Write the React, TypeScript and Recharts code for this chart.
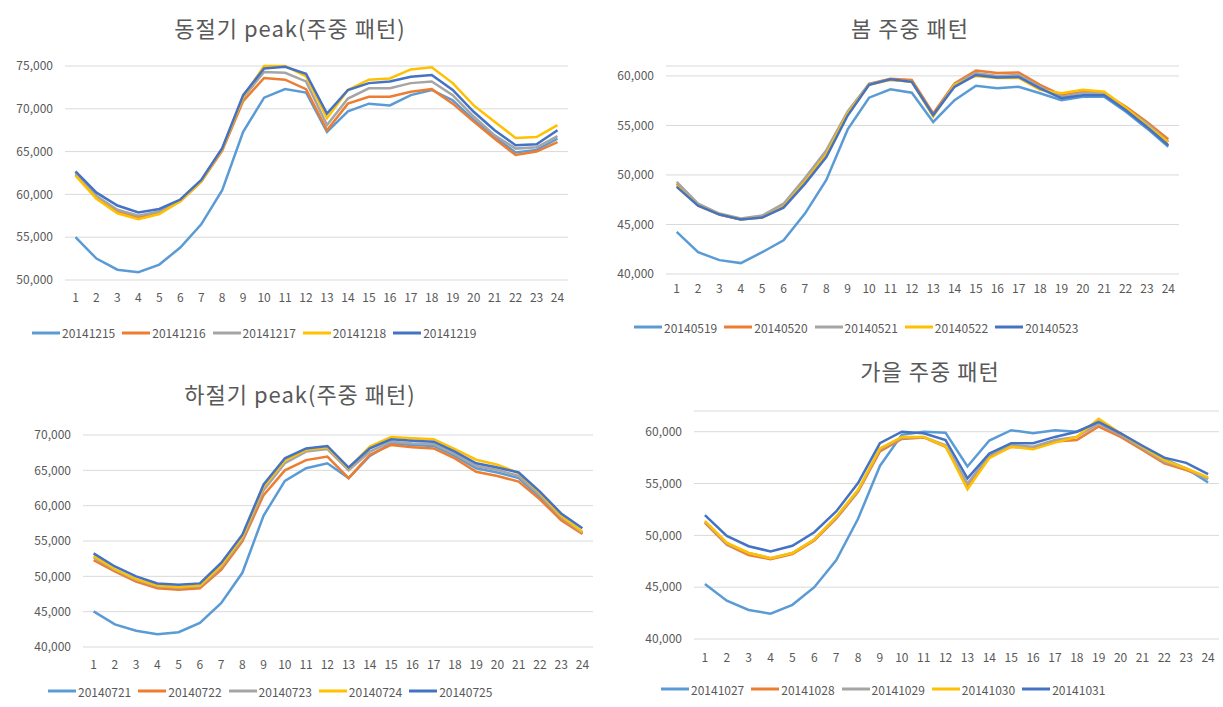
import React from "react"
import { LineChart, Line, XAxis, YAxis, CartesianGrid, Legend } from "recharts"

// hours of the day
const hours = ["1", "2", "3", "4", "5", "6", "7", "8", "9", "10", "11", "12", "13", "14", "15", "16", "17", "18", "19", "20", "21", "22", "23", "24"]

const colors = ["#5B9BD5", "#ED7D31", "#A5A5A5", "#FFC000", "#4472C4"]

// 동절기 peak
const winterDates = ["20141215", "20141216", "20141217", "20141218", "20141219"]
const winter1215 = [55000, 52500, 51200, 50900, 51800, 53800, 56500, 60500, 67300, 71300, 72300, 71900, 67300, 69700, 70600, 70400, 71600, 72200, 71000, 68700, 66700, 64900, 65200, 66500]
const winter1216 = [62300, 59700, 58000, 57300, 57900, 59200, 61500, 65100, 70900, 73600, 73400, 72300, 67500, 70600, 71400, 71400, 72000, 72300, 70600, 68500, 66500, 64600, 65000, 66100]
const winter1217 = [62500, 59800, 58200, 57500, 58000, 59300, 61600, 65300, 71300, 74300, 74200, 73200, 68100, 71200, 72400, 72400, 73000, 73200, 71600, 69100, 66900, 65350, 65500, 66800]
const winter1218 = [62200, 59500, 57800, 57100, 57700, 59200, 61500, 65300, 71400, 75000, 75000, 73800, 68900, 72200, 73400, 73550, 74600, 74850, 73000, 70400, 68500, 66600, 66700, 68100]
const winter1219 = [62700, 60200, 58700, 57900, 58300, 59400, 61700, 65400, 71600, 74700, 74900, 74100, 69450, 72200, 73000, 73200, 73750, 73950, 72200, 69650, 67500, 65750, 65850, 67500]
const winterTicks = [50000, 55000, 60000, 65000, 70000, 75000]

// 봄
const springDates = ["20140519", "20140520", "20140521", "20140522", "20140523"]
const spring0519 = [44250, 42200, 41400, 41100, 42200, 43400, 46100, 49500, 54600, 57800, 58650, 58300, 55350, 57550, 59000, 58750, 58900, 58250, 57550, 57900, 57900, 56400, 54700, 52850]
const spring0520 = [49100, 47000, 46000, 45500, 45800, 46900, 49500, 52300, 56300, 59200, 59700, 59600, 56200, 59250, 60550, 60300, 60350, 59100, 58050, 58400, 58250, 56900, 55350, 53600]
const spring0521 = [49300, 47100, 46100, 45600, 45900, 47100, 49700, 52500, 56400, 59200, 59600, 59400, 56000, 59100, 60300, 60000, 60100, 58900, 57900, 58300, 58200, 56700, 55200, 53350]
const spring0522 = [48900, 46900, 46000, 45500, 45700, 46800, 49300, 52100, 56200, 59100, 59600, 59400, 55900, 59100, 60000, 59800, 59800, 58600, 58250, 58600, 58400, 56800, 55000, 53300]
const spring0523 = [48800, 46900, 46000, 45500, 45700, 46700, 49100, 51800, 56000, 59100, 59650, 59400, 56050, 58900, 60100, 59850, 59900, 58750, 57750, 58050, 58050, 56550, 54850, 53000]
const springTicks = [40000, 45000, 50000, 55000, 60000]

// 하절기 peak
const summerDates = ["20140721", "20140722", "20140723", "20140724", "20140725"]
const summer0721 = [45050, 43200, 42300, 41800, 42100, 43400, 46200, 50500, 58600, 63500, 65300, 66000, 63900, 67050, 68800, 68600, 68450, 67050, 65300, 64700, 63900, 61200, 58200, 56100]
const summer0722 = [52300, 50700, 49250, 48300, 48100, 48300, 50900, 54950, 61500, 65000, 66450, 66950, 63900, 67200, 68600, 68250, 68100, 66700, 64800, 64200, 63400, 60900, 57950, 56000]
const summer0723 = [52700, 50900, 49500, 48600, 48400, 48600, 51300, 55300, 62200, 66000, 67650, 68000, 65000, 67650, 69050, 68800, 68700, 67300, 65600, 65050, 64200, 61500, 58350, 56200]
const summer0724 = [52900, 51000, 49600, 48700, 48500, 48700, 51500, 55600, 62700, 66400, 67900, 68250, 65300, 68350, 69700, 69550, 69400, 68000, 66500, 65800, 64600, 61800, 58550, 56300]
const summer0725 = [53250, 51400, 50000, 49000, 48800, 49000, 51900, 55900, 63000, 66700, 68100, 68450, 65400, 68100, 69400, 69200, 69050, 67650, 66000, 65400, 64700, 62000, 58900, 56800]
const summerTicks = [40000, 45000, 50000, 55000, 60000, 65000, 70000]

// 가을
const autumnDates = ["20141027", "20141028", "20141029", "20141030", "20141031"]
const autumn1027 = [45300, 43700, 42800, 42450, 43300, 45000, 47600, 51600, 56700, 59700, 60000, 59900, 56650, 59150, 60150, 59850, 60150, 60000, 60800, 59850, 58500, 57350, 56450, 55100]
const autumn1028 = [51200, 49100, 48100, 47700, 48200, 49500, 51600, 54200, 58100, 59300, 59450, 58550, 54850, 57600, 58550, 58400, 59050, 59200, 60500, 59500, 58250, 56950, 56300, 55500]
const autumn1029 = [51300, 49200, 48300, 47800, 48300, 49600, 51700, 54300, 58300, 59400, 59500, 58700, 55000, 57750, 58700, 58550, 59200, 59500, 60800, 59700, 58400, 57100, 56450, 55400]
const autumn1030 = [51400, 49300, 48300, 47800, 48300, 49600, 51800, 54400, 58400, 59500, 59500, 58600, 54450, 57450, 58550, 58300, 58950, 59500, 61250, 59850, 58550, 57250, 56450, 55600]
const autumn1031 = [51950, 49950, 48950, 48450, 49000, 50300, 52300, 55050, 58900, 60000, 59850, 59200, 55500, 57900, 58900, 58900, 59500, 60000, 60950, 59850, 58650, 57500, 57000, 55900]
const autumnTicks = [40000, 45000, 50000, 55000, 60000]

const FONT = "'Noto Sans CJK KR', 'Noto Sans', sans-serif"
const TEXT = "#595959"

function buildRows(dates: string[], series: number[][]) {
  return hours.map((h, i) => {
    const row: Record<string, string | number> = { hour: h }
    dates.forEach((d, k) => {
      row[d] = series[k][i]
    })
    return row
  })
}

const fmt = (v: number) => v.toLocaleString("en-US")

function LegendRow(props: any) {
  const { payload } = props
  return (
    <div style={{ display: "flex", alignItems: "center", height: "100%", fontFamily: FONT }}>
      {(payload || []).map((p: any) => (
        <div key={p.value} style={{ display: "flex", alignItems: "center", marginRight: 7 }}>
          <svg width={28} height={6}>
            <line x1={0} y1={3} x2={28} y2={3} stroke={p.color} strokeWidth={3} />
          </svg>
          <span style={{ marginLeft: 2, fontSize: 12, color: TEXT }}>{p.value}</span>
        </div>
      ))}
    </div>
  )
}

type PanelProps = {
  title: string
  dates: string[]
  series: number[][]
  domain: [number, number]
  ticks: number[]
  left: number
  top: number
  width: number
  height: number
  marginTop: number
  marginRight: number
  yWidth: number
  pad: number
  xHeight: number
  xTickMargin: number
  legendHeight: number
  legendLeft: number
  titleX: number
  titleY: number
}

function Panel(p: PanelProps) {
  const rows = buildRows(p.dates, p.series)
  return (
    <>
      <div
        style={{
          position: "absolute",
          left: p.titleX,
          top: p.titleY,
          transform: "translate(-50%, -50%)",
          fontFamily: FONT,
          fontSize: 22,
          letterSpacing: 1,
          color: TEXT,
          whiteSpace: "nowrap",
        }}
      >
        {p.title}
      </div>
      <div style={{ position: "absolute", left: p.left, top: p.top }}>
        <LineChart
          width={p.width}
          height={p.height}
          data={rows}
          margin={{ top: p.marginTop, right: p.marginRight, bottom: 0, left: 0 }}
        >
          <CartesianGrid vertical={false} stroke="#D9D9D9" />
          <XAxis
            dataKey="hour"
            interval={0}
            axisLine={false}
            tickLine={false}
            height={p.xHeight}
            tickMargin={p.xTickMargin}
            padding={{ left: p.pad, right: p.pad }}
            tick={{ fontSize: 12, fill: TEXT, fontFamily: FONT }}
          />
          <YAxis
            domain={p.domain}
            ticks={p.ticks}
            width={p.yWidth}
            axisLine={false}
            tickLine={false}
            tickMargin={6}
            tickFormatter={fmt}
            tick={{ fontSize: 12, fill: TEXT, fontFamily: FONT }}
          />
          <Legend
            verticalAlign="bottom"
            height={p.legendHeight}
            content={LegendRow}
            wrapperStyle={{ left: p.legendLeft, width: p.width - p.legendLeft }}
          />
          {p.dates.map((d, k) => (
            <Line
              key={d}
              dataKey={d}
              stroke={colors[k]}
              strokeWidth={2.5}
              dot={false}
              isAnimationActive={false}
            />
          ))}
        </LineChart>
      </div>
    </>
  )
}

export default function App() {
  return (
    <div style={{ position: "absolute", left: 0, top: 0, width: 1223, height: 707, background: "#fff" }}>
      <Panel
        title="동절기 peak(주중 패턴)"
        dates={winterDates}
        series={[winter1215, winter1216, winter1217, winter1218, winter1219]}
        domain={[50000, 75000]}
        ticks={winterTicks}
        left={0}
        top={0}
        width={600}
        height={350}
        marginTop={66}
        marginRight={32}
        yWidth={65}
        pad={10.5}
        xHeight={35}
        xTickMargin={7}
        legendHeight={35}
        legendLeft={32}
        titleX={290}
        titleY={27}
      />
      <Panel
        title="봄 주중 패턴"
        dates={springDates}
        series={[spring0519, spring0520, spring0521, spring0522, spring0523]}
        domain={[40000, 61000]}
        ticks={springTicks}
        left={600}
        top={0}
        width={623}
        height={345}
        marginTop={66}
        marginRight={44}
        yWidth={66}
        pad={10.7}
        xHeight={35}
        xTickMargin={4}
        legendHeight={36}
        legendLeft={34}
        titleX={910}
        titleY={27}
      />
      <Panel
        title="하절기 peak(주중 패턴)"
        dates={summerDates}
        series={[summer0721, summer0722, summer0723, summer0724, summer0725]}
        domain={[40000, 70000]}
        ticks={summerTicks}
        left={0}
        top={400}
        width={611}
        height={307}
        marginTop={35}
        marginRight={18}
        yWidth={83}
        pad={10.6}
        xHeight={28}
        xTickMargin={7}
        legendHeight={32}
        legendLeft={48}
        titleX={300}
        titleY={393}
      />
      <Panel
        title="가을 주중 패턴"
        dates={autumnDates}
        series={[autumn1027, autumn1028, autumn1029, autumn1030, autumn1031]}
        domain={[40000, 62000]}
        ticks={autumnTicks}
        left={611}
        top={400}
        width={612}
        height={307}
        marginTop={11}
        marginRight={4}
        yWidth={83}
        pad={10.9}
        xHeight={32}
        xTickMargin={8}
        legendHeight={36}
        legendLeft={50}
        titleX={930}
        titleY={370}
      />
    </div>
  )
}
